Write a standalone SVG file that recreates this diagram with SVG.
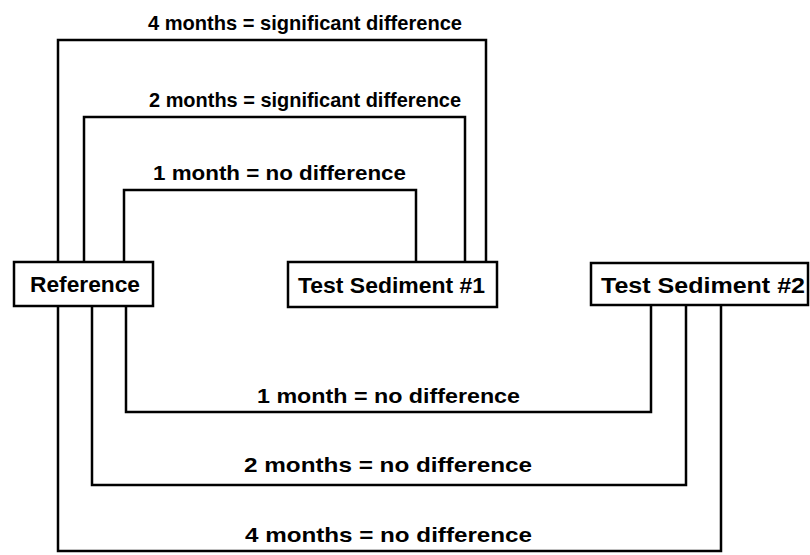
<svg xmlns="http://www.w3.org/2000/svg" width="810" height="555" viewBox="0 0 810 555">
<style>
.box{fill:#fff;stroke:#000;stroke-width:2.5}
.ln{fill:none;stroke:#000;stroke-width:2.5}
text{font-family:"Liberation Sans","DejaVu Sans",sans-serif;font-size:21px;font-weight:bold;fill:#000}
.bl{font-size:22px}
</style>
<rect width="810" height="555" fill="#fff"/>
<g id="connectors">
<path class="ln" d="M58,262 V40 H486 V262"/>
<path class="ln" d="M84,262 V117 H465 V262"/>
<path class="ln" d="M124,262 V190 H416 V262"/>
<path class="ln" d="M126,306 V412 H651 V306"/>
<path class="ln" d="M92,306 V485 H686 V306"/>
<path class="ln" d="M58,306 V551 H721 V306"/>
<text x="148" y="30" textLength="314" lengthAdjust="spacingAndGlyphs">4 months = significant difference</text>
<text x="149" y="107" textLength="312" lengthAdjust="spacingAndGlyphs">2 months = significant difference</text>
<text x="153" y="180" textLength="253" lengthAdjust="spacingAndGlyphs">1 month = no difference</text>
<text x="257" y="403" textLength="263" lengthAdjust="spacingAndGlyphs">1 month = no difference</text>
<text x="244" y="472" textLength="288" lengthAdjust="spacingAndGlyphs">2 months = no difference</text>
<text x="245" y="542" textLength="287" lengthAdjust="spacingAndGlyphs">4 months = no difference</text>
</g>
<g id="reference">
<rect class="box" x="14" y="262" width="139" height="44"/>
<text class="bl" x="30" y="292" textLength="110" lengthAdjust="spacingAndGlyphs">Reference</text>
</g>
<g id="test-sediment-1">
<rect class="box" x="288" y="262" width="209" height="45"/>
<text class="bl" x="298" y="293" textLength="187" lengthAdjust="spacingAndGlyphs">Test Sediment #1</text>
</g>
<g id="test-sediment-2">
<rect class="box" x="591" y="263" width="217" height="42"/>
<text class="bl" x="601" y="293" textLength="204" lengthAdjust="spacingAndGlyphs">Test Sediment #2</text>
</g>
</svg>
